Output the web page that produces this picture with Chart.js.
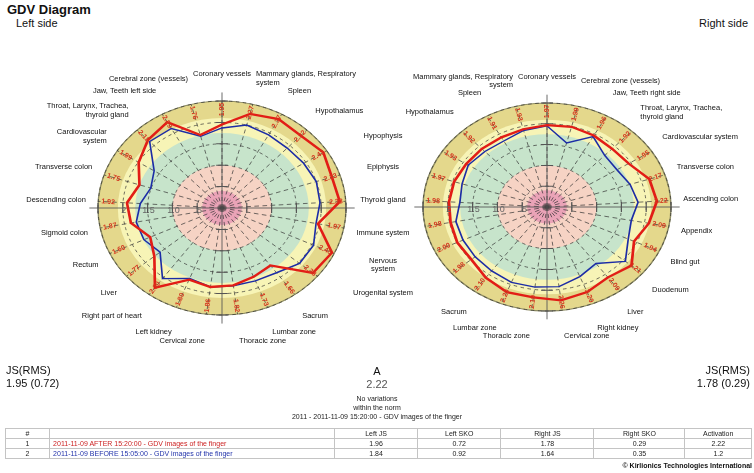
<!DOCTYPE html>
<html><head><meta charset="utf-8">
<script src="https://cdn.jsdelivr.net/npm/chart.js@4"></script>
<style>
body{margin:0;width:754px;height:473px;background:#fff;font-family:"Liberation Sans",Arial,sans-serif;position:relative;overflow:hidden}
.t{position:absolute;white-space:nowrap;color:#111}
.wrap{position:absolute;top:0;height:473px}
table{position:absolute;left:5px;top:428px;width:747px;border-collapse:collapse;font-size:7px;color:#222}
td{border:1px solid #c4c4c4;height:9px;padding:0 3px;text-align:center;line-height:9px}
td.d{text-align:left}
</style></head><body>
<div class="t" style="left:7px;top:2px;font-size:13px;font-weight:bold">GDV Diagram</div>
<div class="t" style="left:16px;top:17px;font-size:11px">Left side</div>
<div class="t" style="right:6px;top:17px;font-size:11px">Right side</div>

<div class="wrap" style="left:0;width:420px"><canvas id="cl"></canvas></div>
<div class="wrap" style="left:340px;width:414px"><canvas id="cr"></canvas></div>

<div class="t" style="left:6px;top:364px;font-size:11px;line-height:13px" id="jsl"></div>
<div class="t" style="right:4px;top:364px;font-size:11px;line-height:13px;text-align:right" id="jsr"></div>
<div class="t" style="left:277px;width:200px;top:365px;font-size:11px;line-height:13px;text-align:center" id="act"></div>
<div class="t" style="left:227px;width:300px;top:394px;font-size:7px;line-height:9px;text-align:center;color:#222" id="notes"></div>
<table id="tbl"></table>
<div class="t" style="right:2px;top:462px;font-size:7px;font-weight:bold">© Kirlionics Technologies International</div>

<script>
// ---------- data ----------
const leftLabels = ["Coronary vessels", ["Mammary glands, Respiratory","system"], "Spleen", "Hypothalamus", "Hypophysis", "Epiphysis", "Thyroid gland", "Immune system", ["Nervous","system"], "Urogenital system", "Sacrum", "Lumbar zone", "Thoracic zone", "Cervical zone", "Left kidney", "Right part of heart", "Liver", "Rectum", "Sigmoid colon", "Descending colon", "Transverse colon", ["Cardiovascular","system"], ["Throat, Larynx, Trachea,","thyroid gland"], "Jaw, Teeth left side", "Cerebral zone (vessels)"];
const rightLabels = ["Coronary vessels", "Cerebral zone (vessels)", "Jaw, Teeth right side", ["Throat, Larynx, Trachea,","thyroid gland"], "Cardiovascular system", "Transverse colon", "Ascending colon", "Appendix", "Blind gut", "Duodenum", "Liver", "Right kidney", "Cervical zone", "Thoracic zone", "Lumbar zone", "Sacrum", "Urogenital system", ["Nervous","system"], "Immune system", "Thyroid gland", "Epiphysis", "Hypophysis", "Hypothalamus", "Spleen", ["Mammary glands, Respiratory","system"]];
const leftRed  = [1.95, 2.27, 2.37, 2.32, 2.42, 2.33, 2.38, 1.97, 2.45, 2.38, 1.66, 1.73, 1.82, 1.86, 1.80, 2.30, 1.77, 1.60, 1.87, 1.92, 1.75, 1.99, 2.18, 2.29, 1.76];
const leftBlue = [1.87, 2.00, 1.95, 1.92, 1.95, 2.00, 1.98, 1.93, 2.04, 2.03, 1.87, 1.83, 1.83, 1.86, 1.77, 2.04, 1.62, 1.74, 1.76, 1.65, 1.51, 1.62, 2.13, 2.12, 1.73];
const rightRed  = [1.97, 1.99, 1.96, 1.92, 1.95, 2.17, 2.22, 2.09, 1.94, 2.21, 2.09, 2.20, 2.26, 2.19, 2.20, 2.10, 1.98, 2.00, 1.98, 1.98, 1.97, 1.93, 1.92, 1.91, 1.93];
const rightBlue = [1.95, 1.59, 1.93, 1.70, 1.67, 1.76, 1.84, 1.73, 1.81, 2.05, 1.68, 1.80, 1.93, 1.94, 1.95, 1.90, 1.88, 1.87, 1.87, 1.76, 1.80, 1.88, 1.83, 1.81, 1.90];
const zoneLevels = [2.5, 2.1, 1.75, 1.0, 0.4];
const zoneColors = ['#e4d88c', '#f7f4b6', '#c7e4cb', '#f6d3c4', '#eaa3b7'];
const axisTickValues = [2, 1.5, 1.0, 0.5];
const axisTickText = ['2', '1.5', '1.0', '.5'];
const jsLeft = ['JS(RMS)', '1.95 (0.72)'];
const jsRight = ['JS(RMS)', '1.78 (0.29)'];
const activation = ['A', '2.22'];
const notes = ['No variations', 'within the norm', '2011 - 2011-11-09 15:20:00 - GDV images of the finger'];
const tableHeader = ['#', '', 'Left JS', 'Left SKO', 'Right JS', 'Right SKO', 'Activation'];
const tableRows = [
  ['1', '2011-11-09 AFTER 15:20:00 - GDV images of the finger', '1.96', '0.72', '1.78', '0.29', '2.22'],
  ['2', '2011-11-09 BEFORE 15:05:00 - GDV images of the finger', '1.84', '0.92', '1.64', '0.35', '1.2']
];
const rowColors = ['#cc2222', '#2233aa'];

// ---------- html text ----------
document.getElementById('jsl').innerHTML = jsLeft.join('<br>');
document.getElementById('jsr').innerHTML = jsRight.join('<br>');
document.getElementById('act').innerHTML = activation[0] + '<br><span style="color:#555">' + activation[1] + '</span>';
document.getElementById('notes').innerHTML = notes.join('<br>');
(function(){
  const t = document.getElementById('tbl');
  const widths = [40, 300, 81, 82, 92, 90, 62];
  let h = '<tr>' + tableHeader.map((c,i)=>'<td style="width:'+widths[i]+'px">'+c+'</td>').join('') + '</tr>';
  tableRows.forEach((r,k)=>{
    h += '<tr>' + r.map((c,i)=>'<td'+(i===1?' class="d" style="color:'+rowColors[k]+'"':'')+'>'+c+'</td>').join('') + '</tr>';
  });
  t.innerHTML = h;
})();

// ---------- charts ----------
// side: +1 => inner (shared) labels lie on the right of this chart and are drawn centred at midX;
//       -1 => inner labels lie on the left and are skipped (drawn by the other chart)
function gdvPlugin(sx, ringValues, side, midX) {
  return {
    id: 'gdv',
    beforeDraw(chart) {
      const s = chart.scales.r, ctx = chart.ctx, cx = s.xCenter, cy = s.yCenter;
      ctx.save();
      ctx.translate(cx, cy); ctx.scale(sx, 1); ctx.translate(-cx, -cy);
      zoneLevels.forEach((v, k) => {
        ctx.beginPath();
        ctx.arc(cx, cy, s.getDistanceFromCenterForValue(v), 0, Math.PI * 2);
        ctx.fillStyle = zoneColors[k];
        ctx.fill();
      });
      ctx.beginPath();
      ctx.arc(cx, cy, s.getDistanceFromCenterForValue(2.5), 0, Math.PI * 2);
      ctx.lineWidth = 1.2; ctx.strokeStyle = '#8e8c62'; ctx.stroke();
    },
    beforeDatasetsDraw(chart) {
      const s = chart.scales.r, ctx = chart.ctx, cx = s.xCenter, cy = s.yCenter;
      const R = s.getDistanceFromCenterForValue(2.5);
      ctx.save();
      ctx.strokeStyle = '#555'; ctx.lineWidth = 0.8; ctx.setLineDash([]);
      ctx.beginPath();
      ctx.moveTo(cx - R * 1.07, cy); ctx.lineTo(cx + R * 1.07, cy);
      ctx.moveTo(cx, cy - R * 1.08); ctx.lineTo(cx, cy + R * 1.08);
      ctx.stroke();
      ctx.lineWidth = 1;
      [0.5, 1, 1.5, 2, 2.5].forEach(v => {
        const d = s.getDistanceFromCenterForValue(v);
        ctx.beginPath();
        ctx.moveTo(cx - d, cy - 5); ctx.lineTo(cx - d, cy + 5);
        ctx.moveTo(cx + d, cy - 5); ctx.lineTo(cx + d, cy + 5);
        ctx.moveTo(cx - 5, cy - d); ctx.lineTo(cx + 5, cy - d);
        ctx.moveTo(cx - 5, cy + d); ctx.lineTo(cx + 5, cy + d);
        ctx.stroke();
      });
      ctx.restore();
    },
    afterDraw(chart) {
      const s = chart.scales.r, ctx = chart.ctx, cx = s.xCenter, cy = s.yCenter;
      ctx.restore();
      const R = s.drawingArea;
      const labels = chart.data.labels;
      ctx.save();
      // axis tick texts
      ctx.font = '9px "Liberation Sans", Arial';
      ctx.fillStyle = '#666'; ctx.textAlign = 'center'; ctx.textBaseline = 'middle';
      axisTickValues.forEach((v, k) => {
        ctx.fillText(axisTickText[k], cx - sx * s.getDistanceFromCenterForValue(v) + 1, cy + 3);
      });
      // point labels
      ctx.font = '7.5px "Liberation Sans", Arial';
      ctx.fillStyle = '#111';
      labels.forEach((lab, i) => {
        const p = s.getPointPosition(i, R);
        const ux = (p.x - cx) / R, uy = (p.y - cy) / R;
        let x = cx + sx * R * 1.1 * ux;
        const y = cy + R * 1.25 * uy;
        ctx.textAlign = ux > 0.1 ? 'left' : (ux < -0.1 ? 'right' : 'center');
        if (ux * side > 0.75) {
          if (side < 0) return;
          x = midX - chart.canvas.getBoundingClientRect().left;
          ctx.textAlign = 'center';
        }
        const lines = Array.isArray(lab) ? lab : [lab];
        lines.forEach((ln, j) => ctx.fillText(ln, x, y + (j - (lines.length - 1) / 2) * 8.5));
      });
      // ring values
      ctx.font = 'bold 7px "Liberation Sans", Arial';
      ctx.fillStyle = '#d4371f'; ctx.textAlign = 'center';
      ringValues.forEach((v, i) => {
        const p = s.getPointPosition(i, s.getDistanceFromCenterForValue(2.3));
        const x = cx + sx * (p.x - cx), y = p.y;
        const th = Math.atan2(p.y - cy, p.x - cx);
        let rot = th;
        if (Math.cos(th) < -0.01 || (Math.abs(Math.cos(th)) <= 0.01 && Math.sin(th) > 0)) rot = th + Math.PI;
        ctx.save(); ctx.translate(x, y); ctx.rotate(rot);
        ctx.fillText(v.toFixed(2), 0, 0);
        ctx.restore();
      });
      ctx.restore();
    }
  };
}

function makeChart(id, labels, red, blue, sx, pad, side) {
  return new Chart(document.getElementById(id), {
    type: 'radar',
    data: {
      labels: labels,
      datasets: [
        { data: red, borderColor: '#e21d16', borderWidth: 2.3, pointRadius: 0, fill: false, tension: 0 },
        { data: blue, borderColor: '#1c2ca6', borderWidth: 1.4, pointRadius: 0, fill: false, tension: 0 }
      ]
    },
    options: {
      responsive: true, maintainAspectRatio: false, animation: false,
      layout: { padding: pad },
      plugins: { legend: { display: false }, tooltip: { enabled: false } },
      scales: {
        r: {
          min: 0, max: 2.5, startAngle: 0,
          ticks: { display: false, stepSize: 0.5 },
          pointLabels: { display: false },
          grid: { circular: true, color: 'rgba(50,50,50,0.8)', lineWidth: 0.8 },
          border: { dash: [3, 3] },
          angleLines: { color: 'rgba(50,50,50,0.8)', lineWidth: 0.8, borderDash: [4, 3] }
        }
      }
    },
    plugins: [gdvPlugin(sx, red, side, 383)]
  });
}

makeChart('cl', leftLabels, leftRed, leftBlue, 124 / 107, { left: 115, right: 91, top: 101, bottom: 158 }, 1);
makeChart('cr', rightLabels, rightRed, rightBlue, 124 / 104, { left: 103, right: 103, top: 103, bottom: 162 }, -1);
</script>
</body></html>
